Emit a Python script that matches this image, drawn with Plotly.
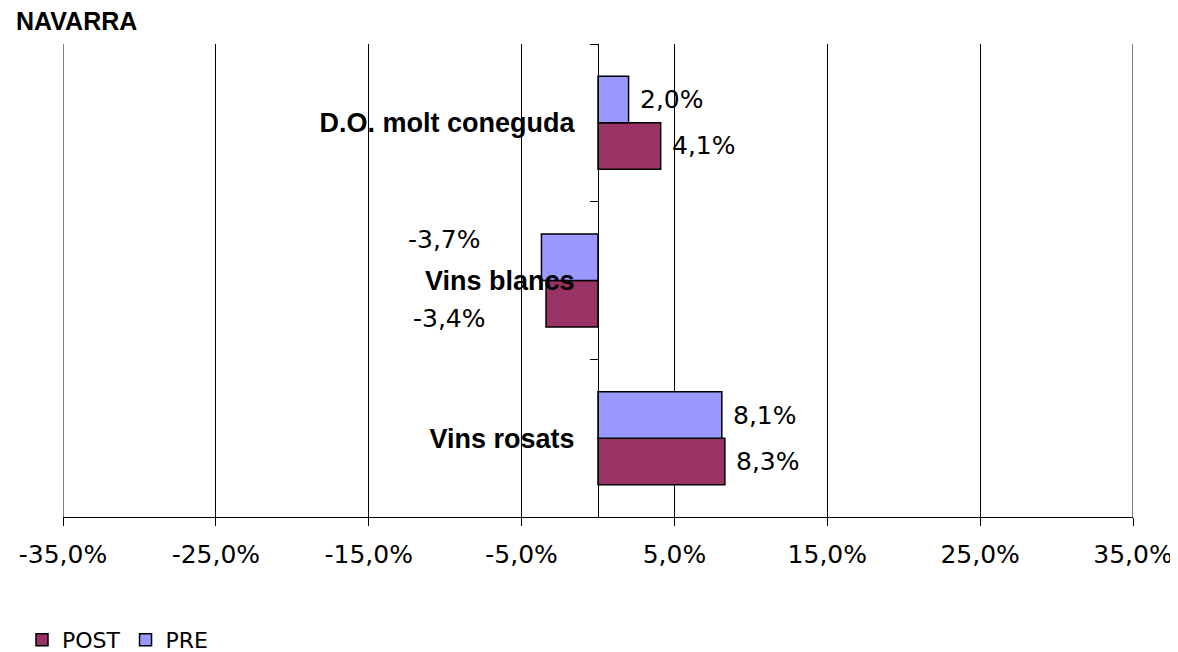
import plotly.graph_objects as go

# Categories listed top to bottom as in the chart
categories = ["D.O. molt coneguda", "Vins blancs", "Vins rosats"]
pre = [2.0, -3.7, 8.1]
post = [4.1, -3.4, 8.3]

x_ticks = [-35, -25, -15, -5, 5, 15, 25, 35]
x_range = [-35, 35]

POST_COLOR = "#993366"
PRE_COLOR = "#9999FF"

# the page body has an 8px margin, so the figure is sized/placed to compensate
W, H = 1170, 644


def fmt(v):
    return f"{v:.1f}%".replace(".", ",")


fig = go.Figure()

# POST first so it sits in the lower slot of each group
fig.add_trace(go.Bar(
    y=categories, x=post, orientation="h", name="POST",
    marker=dict(color=POST_COLOR, line=dict(color="black", width=1.5)),
))
fig.add_trace(go.Bar(
    y=categories, x=pre, orientation="h", name="PRE",
    marker=dict(color=PRE_COLOR, line=dict(color="black", width=1.5)),
))

# Value labels (Excel-style placement: negatives pushed outward)
annotations = []
for vals, upper in ((pre, True), (post, False)):
    for cat, v in zip(categories, vals):
        if v >= 0:
            xanchor, xshift = "left", 9
            yshift = 23 if upper else -23
        else:
            xanchor, xshift = "right", -58
            yshift = 41 if upper else -38
        annotations.append(dict(
            x=v, y=cat, xref="x", yref="y", text=fmt(v), showarrow=False,
            xanchor=xanchor, yanchor="middle", xshift=xshift, yshift=yshift,
            font=dict(family="DejaVu Sans", size=25, color="black"),
        ))

# gridlines at the two ends of the value axis (plotly skips them at the edges)
shapes = [dict(type="line", xref="x", yref="paper", x0=e, x1=e, y0=0, y1=1,
               line=dict(color="black", width=1), layer="below")
          for e in x_range]

fig.update_layout(
    width=W, height=H,
    barmode="group", bargap=0.41, bargroupgap=0,
    plot_bgcolor="white", paper_bgcolor="white",
    margin=dict(l=55, r=45, t=36, b=135, autoexpand=False),
    title=dict(text="<b>NAVARRA</b>", x=8 / W, xanchor="left", xref="container",
               y=1 - 13 / H, yanchor="middle", yref="container",
               font=dict(family="Liberation Sans", size=25, color="black")),
    font=dict(family="DejaVu Sans", color="black"),
    legend=dict(orientation="h", xref="container", yref="container",
                x=14 / W, xanchor="left", y=1 - 632 / H, yanchor="middle",
                font=dict(family="DejaVu Sans", size=22, color="black"),
                itemwidth=30, tracegroupgap=0),
    annotations=annotations,
    shapes=shapes,
)

fig.update_xaxes(
    range=x_range, tickvals=x_ticks, ticktext=[fmt(t) for t in x_ticks],
    showgrid=True, gridcolor="black", gridwidth=1,
    showline=True, linecolor="black", linewidth=1,
    ticks="outside", ticklen=8, tickcolor="black",
    zeroline=False, ticklabelstandoff=7, automargin=False,
    tickfont=dict(family="DejaVu Sans", size=25, color="black"),
)
fig.update_yaxes(
    type="category", categoryorder="array", categoryarray=categories[::-1],
    range=[-0.5, 2.5], anchor="free", position=0.5,
    showline=True, linecolor="black", linewidth=1,
    ticks="outside", tickson="boundaries", ticklen=8, tickcolor="black",
    showgrid=False, zeroline=False, ticklabelstandoff=18, automargin=False,
    tickfont=dict(family="Liberation Sans", size=27, color="black", weight="bold"),
)

fig.write_html("out.html")
